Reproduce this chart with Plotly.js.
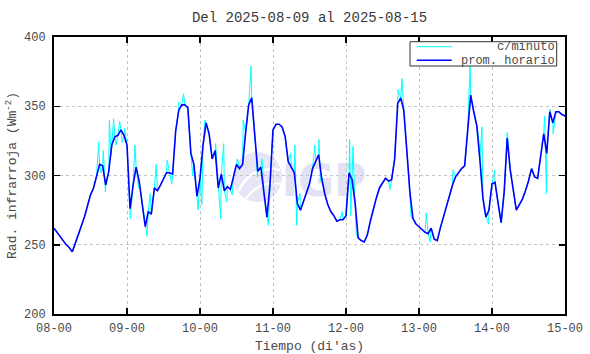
<!DOCTYPE html>
<html>
<head>
<meta charset="utf-8">
<script src="https://cdn.plot.ly/plotly-3.0.1.min.js"></script>
<style>html,body{margin:0;padding:0;background:#fff}#chart{width:590px;height:354px}</style>
</head>
<body>
<div id="chart"></div>
<script>
// Hourly averages (prom. horario), one value per hour, per day
const day08 = [262, 259, 256, 253, 250, 248, 245, 251, 257, 264, 270, 278, 286, 291, 300, 308, 307, 293, 303, 322, 328, 329, 333, 329];
const day09 = [322, 276, 293, 306, 296, 280, 263, 274, 272, 291, 289, 293, 297, 302, 302, 301, 332, 347, 351, 351, 349, 316, 308, 285];
const day10 = [298, 322, 338, 330, 312, 318, 291, 301, 289, 292, 290, 300, 308, 305, 308, 331, 351, 356, 330, 303, 306, 289, 270, 293];
const day11 = [333, 337, 337, 335, 328, 310, 306, 302, 280, 275, 281, 288, 294, 305, 310, 315, 298, 287, 279, 274, 271, 267, 268, 268];
const day12 = [271, 302, 297, 280, 255, 253, 252, 257, 267, 276, 284, 291, 295, 298, 296, 297, 312, 352, 356, 347, 318, 288, 269, 265];
const day13 = [263, 261, 259, 258, 262, 254, 253, 262, 270, 277, 286, 293, 299, 302, 305, 307, 332, 358, 346, 336, 312, 284, 270, 275];
const day14 = [294, 295, 280, 266, 288, 327, 304, 288, 275, 279, 283, 289, 296, 305, 299, 298, 313, 330, 316, 346, 338, 346, 346, 344, 343];

// Per-minute extremes visible around the hourly curve (hour offset, value)
const minuteSpikeHours = [14.7, 15.5, 16.2, 16.9, 18.2, 18.8, 19.6, 20.4, 21.6, 22.4, 23.2, 25.1,
  26.6, 27.8, 30.6, 31.6, 33.6, 37.2, 38.7, 41.0, 42.6, 45.6, 47.4,
  48.6, 49.6, 53.1, 54.8, 55.8, 56.8, 58.6, 60.3, 62.2, 64.8, 66.9, 68.4, 70.5,
  77.8, 79.2, 79.8, 80.9, 85.8, 87.1, 87.6, 94.8,
  97.2, 97.6, 98.3, 98.9, 99.4, 110.4, 113.1, 114.4, 117.4,
  122.4, 123.7, 131.2, 136.8, 139.6, 140.7, 141.3, 142.9, 144.9,
  149.0, 161.3, 161.9, 163.0, 164.1];
const minuteSpikeValues = [324, 302, 318, 288, 340, 315, 341, 322, 339, 324, 334, 269,
  322, 291, 256, 287, 308, 311, 294, 353, 359, 300, 275,
  279, 340, 323, 269, 323, 281, 286, 312, 340, 379, 299, 312, 264,
  316, 322, 264, 287, 322, 326, 296, 274,
  326, 271, 321, 282, 257, 290, 362, 370, 270,
  273, 252, 304, 380, 328, 335, 277, 265, 304,
  331, 343, 287, 348, 330];

const tickHours = [0, 24, 48, 72, 96, 120, 144, 168];
const tickLabels = ['08-00', '09-00', '10-00', '11-00', '12-00', '13-00', '14-00', '15-00'];

const hourly = [].concat(day08, day09, day10, day11, day12, day13, day14);
const hours = hourly.map((_, i) => i);

const minutePts = hours.map((h, i) => [h, hourly[i]])
  .concat(minuteSpikeHours.map((h, i) => [h, minuteSpikeValues[i]]))
  .sort((a, b) => a[0] - b[0]);

const mono = 'Liberation Mono, DejaVu Sans Mono, monospace';
const txt = '#4a4a4a';

const traces = [
  {x: minutePts.map(p => p[0]), y: minutePts.map(p => p[1]), type: 'scatter', mode: 'lines',
   line: {color: '#00ffff', width: 1}, name: 'c/minuto', showlegend: false, hoverinfo: 'skip'},
  {x: hours, y: hourly, type: 'scatter', mode: 'lines',
   line: {color: '#0000ff', width: 1.6}, name: 'prom. horario', showlegend: false}
];

const axisCommon = {
  showline: true, linecolor: '#000', linewidth: 2, mirror: 'ticks',
  ticks: 'inside', ticklen: 6, tickwidth: 1.5, tickcolor: '#000',
  showgrid: true, gridcolor: '#c4c4c4', griddash: 'dot', gridwidth: 1,
  zeroline: false, tickfont: {family: mono, size: 12, color: txt}
};

const W = 511, H = 277, L = 54, B = 40;
const px = v => (v - L) / W;
const py = v => (354 - B - v) / H;

const layout = {
  width: 590, height: 354,
  margin: {l: L, r: 25, t: 37, b: B, pad: 0},
  paper_bgcolor: '#fff', plot_bgcolor: '#fff',
  showlegend: false,
  title: {text: 'Del 2025-08-09 al 2025-08-15', font: {family: mono, size: 14, color: '#3a3a3a'},
          xref: 'paper', x: 0.5, xanchor: 'center', yref: 'container', y: 1 - 17 / 354, yanchor: 'middle'},
  xaxis: Object.assign({}, axisCommon, {
    range: [0, 168], tickmode: 'array', tickvals: tickHours, ticktext: tickLabels,
    ticklabelstandoff: 2,
    title: {text: "Tiempo (di'as)", font: {family: mono, size: 13, color: txt}, standoff: 6}
  }),
  yaxis: Object.assign({}, axisCommon, {
    range: [200, 400], tickmode: 'linear', tick0: 200, dtick: 50,
    ticklabelstandoff: 4,
    title: {text: 'Rad. infrarroja (Wm<sup>-2</sup>)', font: {family: mono, size: 13, color: txt}, standoff: 4}
  }),
  shapes: [
    // watermark emblem
    {type: 'circle', xref: 'paper', yref: 'paper', x0: px(233), x1: px(282), y0: py(202), y1: py(152),
     fillcolor: '#e6e6f6', line: {width: 0}, layer: 'below'},
    {type: 'path', xref: 'paper', yref: 'paper', layer: 'below',
     path: `M ${px(238)} ${py(192)} Q ${px(250)} ${py(165)} ${px(280)} ${py(170)}`,
     line: {color: '#ffffff', width: 2.5}},
    {type: 'path', xref: 'paper', yref: 'paper', layer: 'below',
     path: `M ${px(245)} ${py(200)} Q ${px(258)} ${py(180)} ${px(281)} ${py(184)}`,
     line: {color: '#ffffff', width: 2}},
    {type: 'rect', xref: 'paper', yref: 'paper', x0: px(288), x1: px(360), y0: py(200), y1: py(154),
     line: {width: 0}, fillcolor: 'rgba(0,0,0,0)', layer: 'below',
     label: {text: 'IGP', textposition: 'middle center',
             font: {family: 'DejaVu Sans, sans-serif', size: 44, color: '#e2e2f4', weight: 700}}},
    // legend box
    {type: 'rect', xref: 'paper', yref: 'paper', x0: px(410), x1: px(556.7), y0: py(66), y1: py(41.7),
     fillcolor: '#ffffff', line: {color: '#333', width: 1}, layer: 'above'},
    {type: 'line', xref: 'paper', yref: 'paper', x0: px(416.7), x1: px(451.7), y0: py(46.7), y1: py(46.7),
     line: {color: '#00ffff', width: 1}, layer: 'above'},
    {type: 'line', xref: 'paper', yref: 'paper', x0: px(416.7), x1: px(451.7), y0: py(60.3), y1: py(60.3),
     line: {color: '#0000ff', width: 1.6}, layer: 'above'}
  ],
  annotations: [
    {xref: 'paper', yref: 'paper', x: px(557), y: py(47), xanchor: 'right', yanchor: 'middle',
     text: 'c/minuto', showarrow: false, font: {family: mono, size: 12, color: txt}},
    {xref: 'paper', yref: 'paper', x: px(557), y: py(60.7), xanchor: 'right', yanchor: 'middle',
     text: 'prom. horario', showarrow: false, font: {family: mono, size: 12, color: txt}}
  ]
};

Plotly.newPlot('chart', traces, layout, {staticPlot: true, displayModeBar: false});
</script>
</body>
</html>
